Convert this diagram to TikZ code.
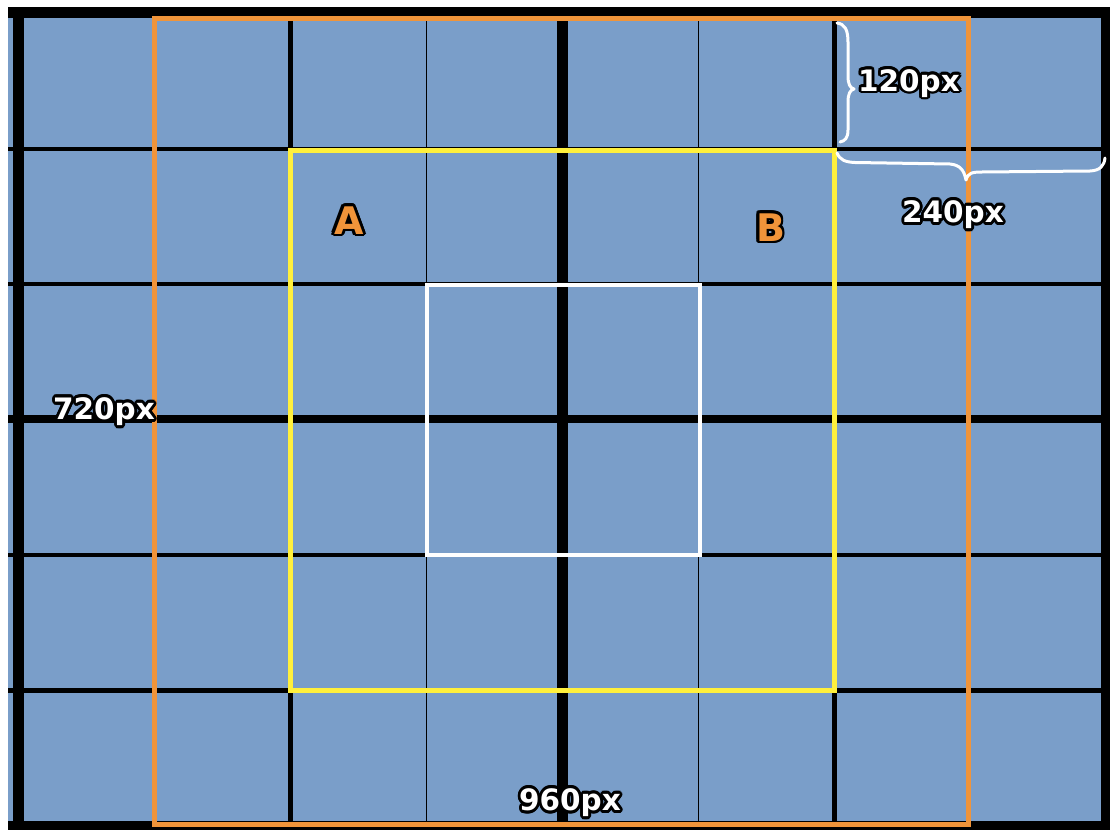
\documentclass[tikz,border=0pt]{standalone}
\usepackage{fontspec}
\setmainfont{DejaVu Sans}
\usepackage[copies]{contour}
\contourlength{2.8pt}
\contournumber{16}
\definecolor{cellblue}{RGB}{122,158,201}
\definecolor{frameorange}{RGB}{240,148,58}
\definecolor{frameyellow}{RGB}{255,240,60}
\tikzset{
  gridline/.style={black, line cap=butt},
  dimlabel/.style={inner sep=0pt, anchor=base, text=white, font=\fontsize{29.5bp}{31bp}\selectfont\bfseries},
  letterlabel/.style={inner sep=0pt, anchor=base, text=frameorange, font=\fontsize{38bp}{40bp}\selectfont\bfseries},
  bracepath/.style={white, line width=3bp, line cap=round, line join=round}
}
\begin{document}
\begin{tikzpicture}[x=1bp,y=-1bp]
\useasboundingbox (0,0) rectangle (1110,830);
\fill[white] (0,0) rectangle (1110,830);
% blue field
\fill[cellblue] (8,7) rectangle (1110,830);
% vertical grid lines
\foreach \x/\w in {18.5/11, 154.5/1.5, 290.5/5, 426.5/1.5, 562.5/11, 698.5/1.5, 834.5/5, 970.5/1.5, 1106.5/11}
  \draw[gridline, line width=\w bp] (\x,7) -- (\x,830);
% horizontal grid lines
\foreach \y/\w in {12.5/11, 148.5/4, 284/4, 419/8, 554.5/4, 690/5, 825.5/9}
  \draw[gridline, line width=\w bp] (8,\y) -- (1110,\y);
% frames
\draw[frameorange, line width=5bp] (154.5,18.5) rectangle (968.5,824.5);
\draw[frameyellow, line width=5bp] (290.5,150) rectangle (834.5,690.5);
\draw[white, line width=4bp] (426.5,285) rectangle (699.5,555);
% braces
\draw[bracepath] (837,23) .. controls (845,24) and (848,30) .. (848,42)
  -- (848,76) .. controls (848,84) and (850,88) .. (854,89)
  .. controls (850,90) and (848,94) .. (848,102)
  -- (848,130) .. controls (848,138) and (845,141) .. (840,142);
\draw[bracepath] (837,153) .. controls (840,160) and (845,162) .. (855,162.5)
  -- (950,164) .. controls (960,165) and (964,170) .. (966,180)
  .. controls (968,173) and (972,172) .. (982,172)
  -- (1090,171) .. controls (1100,170.5) and (1104,166) .. (1105,158);
% labels
\node[dimlabel] (l120) at (909,91) {\contour{black}{120px}};
\node[dimlabel] (l240) at (953,222.5) {\contour{black}{240px}};
\node[dimlabel] (l720) at (104,419.5) {\contour{black}{720px}};
\node[dimlabel] (l960) at (570,810.5) {\contour{black}{960px}};
\node[letterlabel] (la) at (349,234) {\contour{black}{A}};
\node[letterlabel] (lb) at (770.5,241) {\contour{black}{B}};
\end{tikzpicture}
\end{document}
